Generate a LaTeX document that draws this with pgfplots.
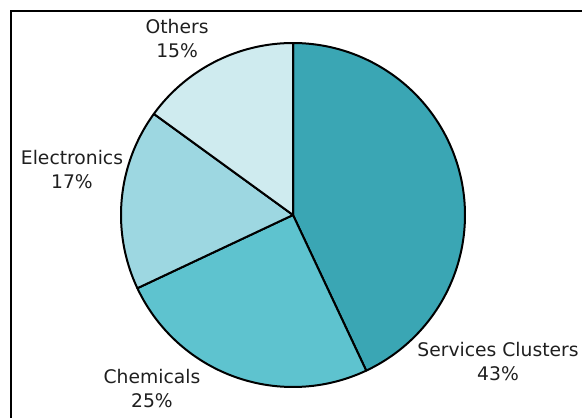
\documentclass[border=0pt]{standalone}
\usepackage{pgfplots}
\pgfplotsset{compat=1.18}
\usepackage{fontspec}
\setmainfont{DejaVu Sans}
\definecolor{cServ}{HTML}{3AA6B4}
\definecolor{cChem}{HTML}{5EC3CF}
\definecolor{cElec}{HTML}{9DD7E1}
\definecolor{cOth}{HTML}{CFEBEF}
\begin{document}
\begin{tikzpicture}
% shares (percent)
\def\vServ{43}\def\vChem{25}\def\vElec{17}\def\vOth{15}
\pgfmathsetmacro\aA{90}
\pgfmathsetmacro\aB{\aA-3.6*\vServ}
\pgfmathsetmacro\aC{\aB-3.6*\vChem}
\pgfmathsetmacro\aD{\aC-3.6*\vElec}
\pgfmathsetmacro\aE{\aD-3.6*\vOth}
\begin{axis}[
  x=172bp, y=172bp,
  xmin=-1.6395, xmax=2.2, ymin=-1.6, ymax=1.186,
  ticks=none,
  axis line style={line width=2.2bp},
  clip=false,
]
\addplot[fill=cServ, draw=black, line width=2bp, line join=round, domain=\aB:\aA, samples=100, variable=\t] ({cos(\t)},{sin(\t)}) -- (axis cs:0,0) -- cycle;
\addplot[fill=cChem, draw=black, line width=2bp, line join=round, domain=\aC:\aB, samples=60, variable=\t] ({cos(\t)},{sin(\t)}) -- (axis cs:0,0) -- cycle;
\addplot[fill=cElec, draw=black, line width=2bp, line join=round, domain=\aD:\aC, samples=50, variable=\t] ({cos(\t)},{sin(\t)}) -- (axis cs:0,0) -- cycle;
\addplot[fill=cOth, draw=black, line width=2bp, line join=round, domain=\aE:\aD, samples=50, variable=\t] ({cos(\t)},{sin(\t)}) -- (axis cs:0,0) -- cycle;
\tikzset{lbl/.style={align=center, text=black!88, font=\fontsize{18.8}{24}\selectfont, inner sep=0pt}}
\node[lbl] at (axis cs:-0.674,1.026) {Others\\\vOth\%};
\node[lbl] at (axis cs:-1.285,0.262) {Electronics\\\vElec\%};
\node[lbl] at (axis cs:-0.820,-1.009) {Chemicals\\\vChem\%};
\node[lbl] at (axis cs:1.192,-0.852) {Services Clusters\\\vServ\%};
\coordinate (bl) at (axis cs:-1.7035,-1.1802);
\coordinate (tr) at (axis cs:1.6802,1.25);
\end{axis}
\pgfresetboundingbox
\useasboundingbox (bl) rectangle (tr);
\end{tikzpicture}
\end{document}
